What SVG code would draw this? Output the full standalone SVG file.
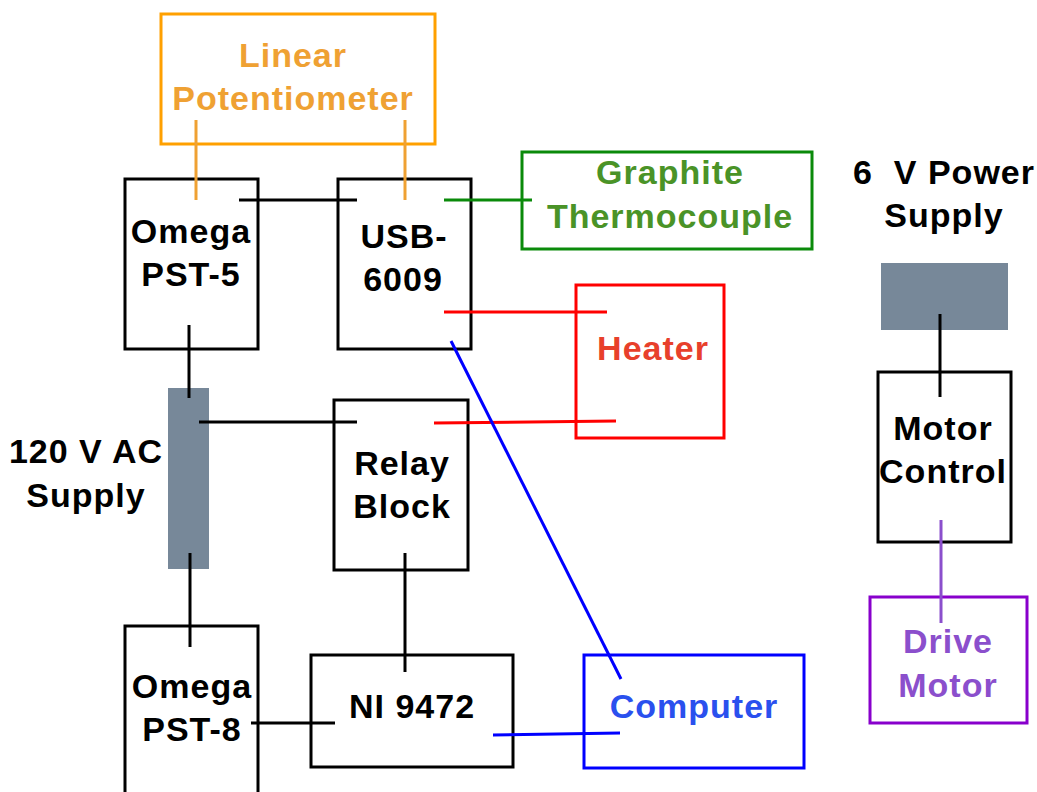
<svg xmlns="http://www.w3.org/2000/svg" width="1037" height="792" viewBox="0 0 1037 792">
<style>
text{font-family:"Liberation Sans",Arial,Helvetica,sans-serif;font-weight:bold;font-size:34px;letter-spacing:1px;text-anchor:middle}
.box{fill:none;stroke-width:3}
.k{stroke:#000}
.t{fill:#000}
.ln{fill:none;stroke-width:3;stroke-linecap:butt}
.bar{fill:#778899}
</style>
<rect width="1037" height="792" fill="#fff"/>
<g id="linear-potentiometer">
<rect class="box" x="161" y="14" width="274" height="130" stroke="#FFA000"/>
<text x="293" y="67" fill="#EFA133">Linear</text>
<text x="293" y="110" fill="#EFA133">Potentiometer</text>
</g>
<g id="omega-pst5">
<rect class="box k" x="125" y="179" width="133" height="170"/>
<text class="t" x="191" y="243">Omega</text>
<text class="t" x="191" y="286">PST-5</text>
</g>
<g id="usb-6009">
<rect class="box k" x="338" y="179" width="133" height="170"/>
<text class="t" x="404" y="248">USB-</text>
<text class="t" x="403" y="291">6009</text>
</g>
<g id="graphite-thermocouple">
<rect class="box" x="522" y="152" width="290" height="97" stroke="#0A8A0A"/>
<text x="670" y="184" fill="#4A9327">Graphite</text>
<text x="670" y="228" fill="#4A9327">Thermocouple</text>
</g>
<g id="heater">
<rect class="box" x="576" y="285" width="148" height="153" stroke="#FF0000"/>
<text x="653" y="360" fill="#E8402B">Heater</text>
</g>
<g id="ac-supply">
<rect class="bar" x="168" y="388" width="41" height="181"/>
<text class="t" x="86" y="463">120 V AC</text>
<text class="t" x="86" y="507">Supply</text>
</g>
<g id="relay-block">
<rect class="box k" x="334" y="400" width="134" height="170"/>
<text class="t" x="402" y="475">Relay</text>
<text class="t" x="402" y="518">Block</text>
</g>
<g id="omega-pst8">
<rect class="box k" x="125" y="626" width="133" height="180"/>
<text class="t" x="192" y="698">Omega</text>
<text class="t" x="192" y="741">PST-8</text>
</g>
<g id="ni-9472">
<rect class="box k" x="311" y="655" width="202" height="112"/>
<text class="t" x="412" y="718">NI 9472</text>
</g>
<g id="computer">
<rect class="box" x="584" y="655" width="220" height="113" stroke="#0000FF"/>
<text x="694" y="718" fill="#2A50EE">Computer</text>
</g>
<g id="dc-supply">
<text class="t" x="944" y="184" xml:space="preserve">6  V Power</text>
<text class="t" x="944" y="227">Supply</text>
<rect class="bar" x="881" y="263" width="127" height="67"/>
</g>
<g id="motor-control">
<rect class="box k" x="878" y="372" width="133" height="170"/>
<text class="t" x="943" y="440">Motor</text>
<text class="t" x="943" y="483">Control</text>
</g>
<g id="drive-motor">
<rect class="box" x="870" y="597" width="157" height="126" stroke="#8800CC"/>
<text x="948" y="653" fill="#8B4FCC">Drive</text>
<text x="948" y="697" fill="#8B4FCC">Motor</text>
</g>
<g id="connectors">
<line class="ln" x1="196" y1="120" x2="196" y2="200" stroke="#EFA133"/>
<line class="ln" x1="405" y1="120" x2="405" y2="200" stroke="#EFA133"/>
<line class="ln" x1="239" y1="200" x2="357" y2="200" stroke="#000"/>
<line class="ln" x1="444" y1="200" x2="532" y2="200" stroke="#0A8A0A"/>
<line class="ln" x1="444" y1="312" x2="607" y2="312" stroke="#FF0000"/>
<line class="ln" x1="434" y1="423" x2="616" y2="421" stroke="#FF0000"/>
<line class="ln" x1="451" y1="341" x2="621" y2="679" stroke="#0000FF"/>
<line class="ln" x1="493" y1="735" x2="620" y2="733" stroke="#0000FF"/>
<line class="ln" x1="189" y1="325" x2="189" y2="398" stroke="#000"/>
<line class="ln" x1="199" y1="422" x2="357" y2="422" stroke="#000"/>
<line class="ln" x1="190" y1="553" x2="190" y2="647" stroke="#000"/>
<line class="ln" x1="405" y1="553" x2="405" y2="672" stroke="#000"/>
<line class="ln" x1="251" y1="723" x2="335" y2="723" stroke="#000"/>
<line class="ln" x1="940" y1="314" x2="940" y2="397" stroke="#000"/>
<line class="ln" x1="941" y1="520" x2="941" y2="623" stroke="#8B4FCC"/>
</g>
</svg>
